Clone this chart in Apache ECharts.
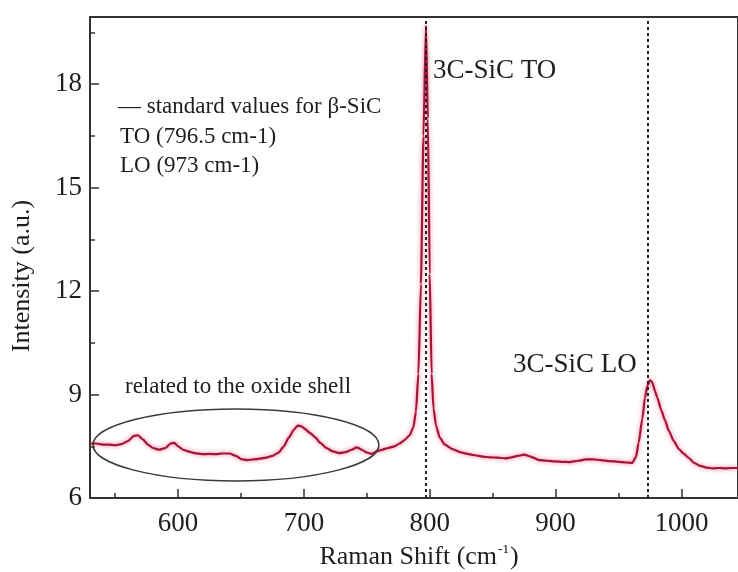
<!DOCTYPE html>
<html>
<head>
<meta charset="utf-8">
<script src="https://cdn.jsdelivr.net/npm/echarts@6/dist/echarts.min.js"></script>
<style>
  html, body { margin: 0; padding: 0; background: #fff; }
  #chart { width: 738px; height: 572px; }
</style>
</head>
<body>
<div id="chart"></div>
<script>
// Raman spectrum of SiC nanowires (Raman shift in cm-1, intensity in a.u.)
var ramanShift = [
  530, 535, 540, 545, 550, 555, 560, 565, 568, 572, 576, 580, 585, 590, 594, 597,
  600, 604, 608, 613, 620, 625, 630, 635, 641, 646, 650, 655, 660, 665, 670, 675,
  680, 684, 688, 692, 695, 698, 701, 705, 709, 713, 718, 723, 728, 733, 738, 742,
  746, 750, 754, 758, 762, 767, 772, 776, 780, 784, 787, 789, 791, 793, 795, 797,
  798.5, 800, 801.5, 803, 805, 808, 812, 818, 824, 830, 836, 842, 848, 854, 860, 865,
  870, 875, 880, 887, 893, 900, 906, 911, 918, 924, 930, 936, 943, 950, 956, 961,
  964, 966, 969, 971, 973, 975, 977, 979, 981, 984, 987, 990, 994, 998, 1002, 1006,
  1010, 1015, 1020, 1025, 1030, 1035, 1040, 1045
];
var intensity = [
  7.58, 7.58, 7.55, 7.55, 7.53, 7.56, 7.65, 7.80, 7.82, 7.70, 7.55, 7.45, 7.40, 7.45, 7.58, 7.60,
  7.50, 7.40, 7.35, 7.30, 7.27, 7.28, 7.27, 7.29, 7.29, 7.22, 7.13, 7.10, 7.12, 7.14, 7.17, 7.22,
  7.32, 7.50, 7.75, 7.98, 8.10, 8.08, 8.00, 7.88, 7.76, 7.60, 7.45, 7.35, 7.30, 7.33, 7.40, 7.47,
  7.40, 7.32, 7.28, 7.35, 7.40, 7.45, 7.50, 7.58, 7.68, 7.82, 8.05, 8.50, 9.60, 12.2, 16.5, 19.7,
  17.0, 12.5, 9.60, 8.60, 8.10, 7.75, 7.55, 7.42, 7.33, 7.28, 7.24, 7.20, 7.18, 7.17, 7.15, 7.18,
  7.22, 7.26, 7.20, 7.10, 7.08, 7.06, 7.05, 7.04, 7.08, 7.12, 7.12, 7.10, 7.07, 7.05, 7.03, 7.02,
  7.20, 7.60, 8.30, 8.90, 9.25, 9.42, 9.35, 9.10, 8.90, 8.55, 8.25, 7.95, 7.65, 7.42, 7.28, 7.16,
  7.02, 6.93, 6.88, 6.86, 6.87, 6.86, 6.87, 6.87
];

// Reference phonon positions of beta-SiC
var standardLines = [796.5, 973];

// Axis ticks
var xMajorTicks = [600, 700, 800, 900, 1000];
var xMinorTicks = [550, 650, 750, 850, 950];
var yMajorTicks = [6, 9, 12, 15, 18];
var yMinorTicks = [7.5, 10.5, 13.5, 16.5, 19.5];

// Oxide-shell region (centre in data units)
var oxideRegionCenter = [646, 7.54];

var serif = '"Liberation Serif", "Times New Roman", serif';
var ink = '#1e1e1e';

var chart = echarts.init(document.getElementById('chart'), null, { renderer: 'canvas' });

var points = ramanShift.map(function (x, i) { return [x, intensity[i]]; });

var option = {
  animation: false,
  backgroundColor: '#ffffff',
  grid: {
    left: 90, right: -1, top: 17, bottom: 74,
    show: true, borderColor: '#333', borderWidth: 2, backgroundColor: 'transparent'
  },
  xAxis: [
    {
      type: 'value', min: 530, max: 1045, position: 'bottom',
      axisLine: { show: true, onZero: false, lineStyle: { color: '#333', width: 2 } },
      axisTick: { show: true, inside: true, length: 9, customValues: xMajorTicks, lineStyle: { color: '#333', width: 1.5 } },
      axisLabel: {
        show: true, customValues: xMajorTicks, margin: 12, color: ink, fontFamily: serif, fontSize: 27,
        formatter: function (v) { return String(v); }
      },
      splitLine: { show: false }
    },
    {
      type: 'value', min: 530, max: 1045, position: 'bottom', gridIndex: 0,
      axisLine: { show: false },
      axisTick: { show: true, inside: true, length: 5, customValues: xMinorTicks, lineStyle: { color: '#333', width: 1.5 } },
      axisLabel: { show: false },
      splitLine: { show: false }
    }
  ],
  yAxis: [
    {
      type: 'value', min: 6, max: 19.95, position: 'left',
      axisLine: { show: true, onZero: false, lineStyle: { color: '#333', width: 2 } },
      axisTick: { show: true, inside: true, length: 9, customValues: yMajorTicks, lineStyle: { color: '#333', width: 1.5 } },
      axisLabel: {
        show: true, customValues: yMajorTicks, margin: 8, color: ink, fontFamily: serif, fontSize: 27,
        formatter: function (v) { return String(v); }
      },
      splitLine: { show: false }
    },
    {
      type: 'value', min: 6, max: 19.95, position: 'left', gridIndex: 0,
      axisLine: { show: false },
      axisTick: { show: true, inside: true, length: 5, customValues: yMinorTicks, lineStyle: { color: '#333', width: 1.5 } },
      axisLabel: { show: false },
      splitLine: { show: false }
    }
  ],
  series: [
    {
      type: 'line',
      xAxisIndex: 0, yAxisIndex: 0,
      data: points,
      showSymbol: false,
      smooth: 0.2,
      smoothMonotone: 'x',
      lineStyle: { color: '#a3163c', width: 2.2, shadowColor: 'rgba(235, 60, 100, 0.75)', shadowBlur: 4 },
      markLine: {
        silent: true,
        symbol: ['none', 'none'],
        label: { show: false },
        lineStyle: { color: '#222', width: 2, type: [3, 3] },
        data: standardLines.map(function (v) { return { xAxis: v }; })
      },
      z: 3
    }
  ]
};

chart.setOption(option);

// Annotations: ellipse around the oxide-shell features plus labels
var c = chart.convertToPixel({ gridIndex: 0 }, oxideRegionCenter);

chart.setOption({
  graphic: [
    {
      type: 'ellipse',
      shape: { cx: c[0], cy: c[1], rx: 143, ry: 36 },
      style: { fill: 'none', stroke: '#3a3a3a', lineWidth: 1.5 },
      z: 10
    },
    {
      type: 'text', left: 118, top: 95,
      style: { text: '\u2014 standard values for \u03b2-SiC', font: '23px ' + serif, fill: ink }
    },
    {
      type: 'text', left: 120, top: 125,
      style: { text: 'TO (796.5 cm-1)', font: '23px ' + serif, fill: ink }
    },
    {
      type: 'text', left: 120, top: 154,
      style: { text: 'LO (973 cm-1)', font: '23px ' + serif, fill: ink }
    },
    {
      type: 'text', left: 433, top: 57,
      style: { text: '3C-SiC TO', font: '27px ' + serif, fill: ink }
    },
    {
      type: 'text', left: 513, top: 351,
      style: { text: '3C-SiC LO', font: '27px ' + serif, fill: ink }
    },
    {
      type: 'text', left: 125, top: 375,
      style: { text: 'related to the oxide shell', font: '23px ' + serif, fill: ink }
    },
    {
      type: 'text', x: 22, y: 276, rotation: Math.PI / 2,
      style: {
        text: 'Intensity (a.u.)', font: '26px ' + serif, fill: ink,
        align: 'center', verticalAlign: 'middle'
      }
    },
    {
      type: 'text', x: 419, y: 557,
      style: {
        text: '{a|Raman Shift (cm}{s|-1}{a|)}',
        align: 'center', verticalAlign: 'middle',
        rich: {
          a: { fontFamily: serif, fontSize: 26, fill: ink, color: ink },
          s: { fontFamily: serif, fontSize: 13, color: ink, padding: [0, 1, 14, 1] }
        }
      }
    }
  ]
});
</script>
</body>
</html>
